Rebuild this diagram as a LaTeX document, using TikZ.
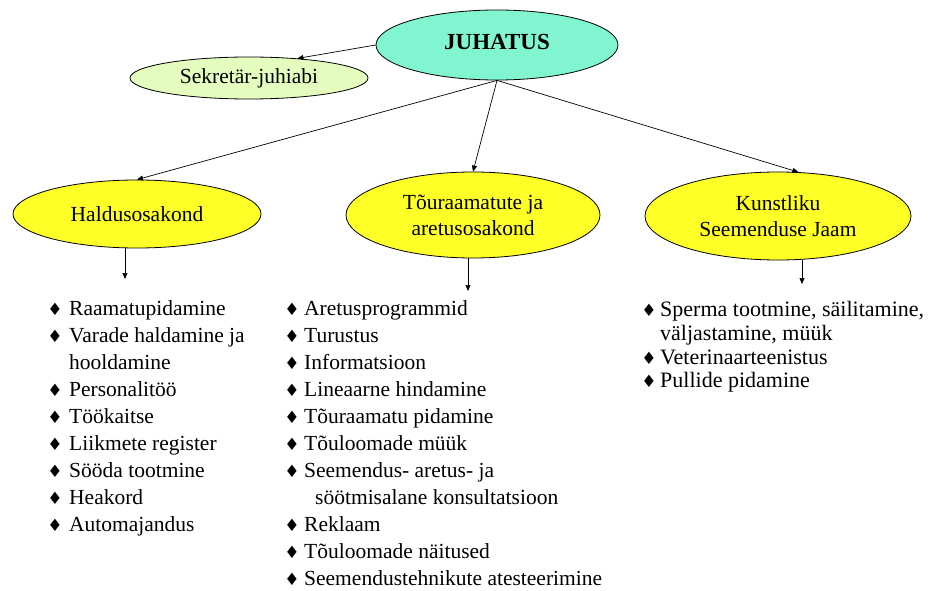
\documentclass[tikz,border=0pt]{standalone}
\usepackage{fontspec}
\setmainfont{Liberation Serif}
\newfontfamily\symfont{DejaVu Sans}
\usetikzlibrary{shapes.geometric,arrows.meta,calc}
\definecolor{aqua}{RGB}{128,245,208}
\definecolor{lightgr}{RGB}{228,252,190}
\definecolor{yel}{RGB}{255,255,40}
\tikzset{
  oval/.style={ellipse,draw=black,line width=0.8pt,inner sep=0pt,align=center,
    font=\fontsize{21.5}{26}\selectfont},
  arr/.style={-{Triangle[length=6pt,width=5pt]},line width=0.7pt},
  item/.style={anchor=mid west,inner sep=0pt,font=\fontsize{21.5}{26}\selectfont},
  ritem/.style={item,font=\fontsize{22}{26}\selectfont},
  bul/.style={anchor=mid,inner sep=0pt,font=\symfont\fontsize{17}{17}\selectfont}
}
\begin{document}
\begin{tikzpicture}[x=1pt,y=-1pt]
\useasboundingbox (0,0) rectangle (938,591);
\fill[white] (0,0) rectangle (938,591);
% ellipses
\node[oval,fill=aqua,minimum width=242pt,minimum height=70pt] (J) at (497,45)
  {\raisebox{7pt}{\fontsize{23}{26}\selectfont\textbf{JUHATUS}}};
\node[oval,fill=lightgr,minimum width=238pt,minimum height=42pt] (S) at (249,78)
  {Sekretär-juhiabi};
\node[oval,fill=yel,minimum width=248pt,minimum height=68pt] (H) at (137,214)
  {Haldusosakond};
\node[oval,fill=yel,minimum width=254pt,minimum height=86pt] (M) at (473,215)
  {Tõuraamatute ja\\aretusosakond};
\node[oval,fill=yel,minimum width=266pt,minimum height=88pt] (K) at (778,216)
  {Kunstliku\\Seemenduse Jaam};
% connectors
\draw[arr] (J.west) -- (S.22);
\draw[arr] (J.south) -- (H.north);
\draw[arr] (J.south) -- (M.north);
\draw[arr] (J.south) -- (K.65);
\coordinate (hd) at (125,279);
\coordinate (md) at (468,291);
\coordinate (kd) at (802,284);
\draw[arr] (hd |- H.south) -- (hd);
\draw[arr] (md |- M.south) -- (md);
\draw[arr] (kd |- K.south) -- (kd);
% left list
\foreach \t [count=\i] in {Raamatupidamine,Varade haldamine ja,,Personalitöö,Töökaitse,Liikmete register,Sööda tootmine,Heakord,Automajandus}{
  \ifx\t\empty\else
  \node[bul] (lb\i) at (55,{313+27*(\i-1)}) {♦};
  \node[item] (lt\i) at (69,{313+27*(\i-1)}) {\t};
  \fi
}
\node[item] (lt3) at (69,367) {hooldamine};
% middle list
\foreach \t [count=\i] in {Aretusprogrammid,Turustus,Informatsioon,Lineaarne hindamine,Tõuraamatu pidamine,Tõuloomade müük,{Seemendus- aretus- ja},,Reklaam,Tõuloomade näitused,Seemendustehnikute atesteerimine}{
  \ifx\t\empty\else
  \node[bul] (mb\i) at (292,{313+27*(\i-1)}) {♦};
  \node[item] (mt\i) at (304,{313+27*(\i-1)}) {\t};
  \fi
}
\node[item] (mt8) at (315,502) {söötmisalane konsultatsioon};
% right list
\node[bul] (rb1) at (649,314) {♦};
\node[ritem] (rt1) at (660,314) {Sperma tootmine, säilitamine,};
\node[ritem] (rt2) at (660,338) {väljastamine, müük};
\node[bul] (rb3) at (649,362) {♦};
\node[ritem] (rt3) at (660,362) {Veterinaarteenistus};
\node[bul] (rb4) at (649,385) {♦};
\node[ritem] (rt4) at (660,385) {Pullide pidamine};
\end{tikzpicture}
\end{document}
